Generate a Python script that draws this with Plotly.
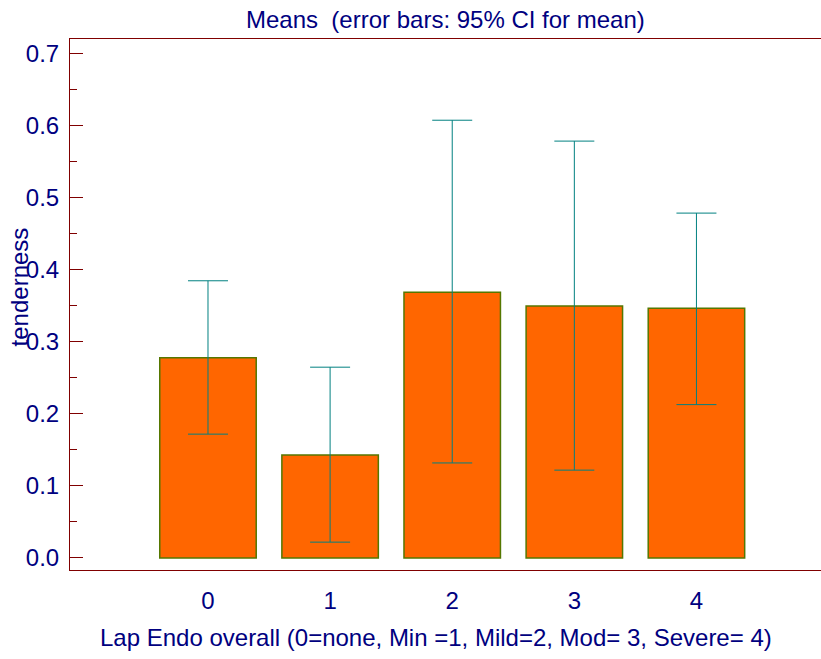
import plotly.graph_objects as go

categories = ["0", "1", "2", "3", "4"]
means = [0.278, 0.143, 0.369, 0.350, 0.347]
ci_upper = [0.385, 0.265, 0.608, 0.579, 0.479]
ci_lower = [0.172, 0.022, 0.132, 0.122, 0.213]
y_ticks = [0.0, 0.1, 0.2, 0.3, 0.4, 0.5, 0.6, 0.7]

xpos = list(range(len(categories)))
err_plus = [u - m for u, m in zip(ci_upper, means)]
err_minus = [m - l for m, l in zip(means, ci_lower)]

navy = "#000080"
axis_col = "#800000"
font_family = "Liberation Sans, Arial, sans-serif"

fig = go.Figure()
fig.add_trace(go.Bar(
    x=xpos, y=means, width=0.79,
    marker=dict(color="#FF6600", line=dict(color="#557700", width=1.5)),
    error_y=dict(type="data", symmetric=False, array=err_plus, arrayminus=err_minus,
                 color="#008080", thickness=1, width=20),
    showlegend=False,
))

fig.update_layout(
    width=821, height=659,
    margin=dict(l=70, r=0, t=39, b=89),
    paper_bgcolor="white", plot_bgcolor="white",
    font=dict(family=font_family, color=navy),
    bargap=0.2,
)
fig.update_xaxes(
    range=[-1.13, 5.02],
    tickvals=xpos, ticktext=categories,
    tickfont=dict(size=24, color=navy),
    ticks="", showgrid=False, zeroline=False,
    showline=True, linecolor=axis_col, linewidth=1, mirror=True,
    ticklabelstandoff=9,
)
fig.update_yaxes(
    range=[-0.0167, 0.7208],
    tickvals=y_ticks, ticktext=[f"{v:.1f}" for v in y_ticks],
    tickfont=dict(size=24, color=navy),
    ticks="inside", ticklen=13, tickcolor=axis_col, tickwidth=1,
    minor=dict(dtick=0.05, tick0=0, ticks="inside", ticklen=7, tickcolor=axis_col, tickwidth=1, showgrid=False),
    showgrid=False, zeroline=False,
    showline=True, linecolor=axis_col, linewidth=1,
    ticklabelstandoff=5,
)
fig.add_annotation(
    text="Lap Endo overall (0=none, Min =1, Mild=2, Mod= 3, Severe= 4)",
    xref="paper", yref="paper", x=(436 - 70) / 751, y=0, yshift=-67,
    xanchor="center", yanchor="middle", showarrow=False,
    font=dict(size=24, color=navy),
)
fig.add_annotation(
    text="tenderness", textangle=-90, xref="paper", yref="paper",
    x=-0.066, y=0.533, xanchor="center", yanchor="middle", showarrow=False,
    font=dict(size=24, color=navy),
)
fig.add_annotation(
    text="Means  (error bars: 95% CI for mean)", xref="paper", yref="paper",
    x=0.5, y=1.0, yshift=20, xanchor="center", yanchor="middle", showarrow=False,
    font=dict(size=24, color=navy),
)

fig.write_html("out.html")
